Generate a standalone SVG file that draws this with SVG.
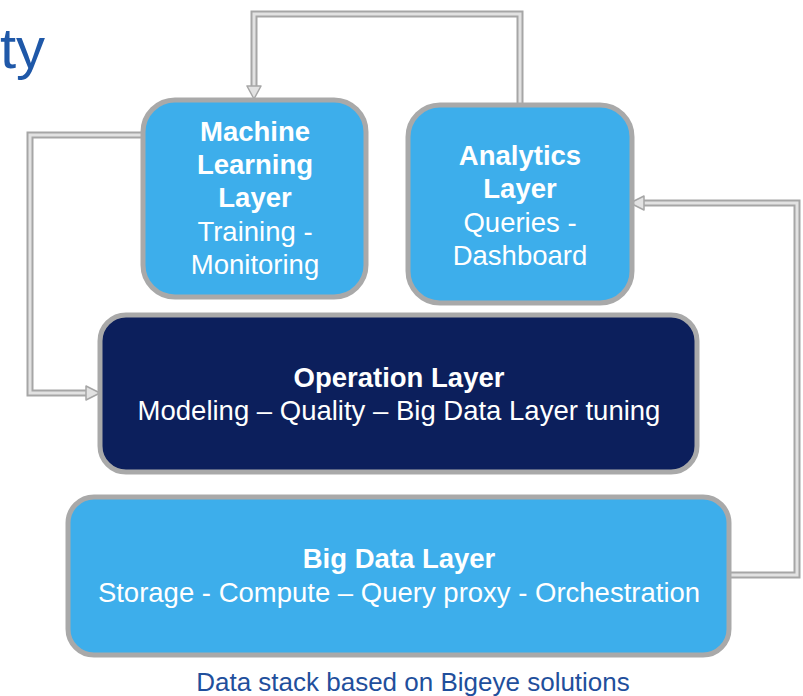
<svg xmlns="http://www.w3.org/2000/svg" width="803" height="696" viewBox="0 0 803 696">
<defs>
<style>
.box{stroke:#a9a9a9;stroke-width:5}
.light{fill:#3daeeb}
.dark{fill:#0c1f5c}
.t{font-family:"Liberation Sans",Arial,sans-serif;fill:#fff;text-anchor:middle;font-size:27.5px}
.b{font-weight:bold}
.co{fill:none;stroke:#a6a6a6;stroke-width:7;stroke-linejoin:miter}
.ci{fill:none;stroke:#e2e2e2;stroke-width:3}
.ah{fill:#e2e2e2;stroke:#a6a6a6;stroke-width:1.5;stroke-linejoin:round}
</style>
</defs>
<rect width="803" height="696" fill="#fff"/>
<text x="0" y="68" font-family="Liberation Sans,Arial,sans-serif" font-size="58" fill="#1f58a8">ty</text>
<g id="connectors">
<path class="co" d="M520,105 V14 H254 V88"/>
<path class="ci" d="M520,105 V14 H254 V88"/>
<polygon class="ah" points="247,86 261,86 254,99"/>
<path class="co" d="M143,135 H30 V393 H88"/>
<path class="ci" d="M143,135 H30 V393 H88"/>
<polygon class="ah" points="86,386 86,400 100,393"/>
<path class="co" d="M728,575 H797 V203 H642"/>
<path class="ci" d="M728,575 H797 V203 H642"/>
<polygon class="ah" points="644,196 644,210 630,203"/>
</g>
<g id="ml">
<rect class="box light" x="143" y="100" width="223" height="197" rx="32"/>
<text class="t b" x="255" y="141">Machine</text>
<text class="t b" x="255" y="174">Learning</text>
<text class="t b" x="255" y="207">Layer</text>
<text class="t" x="255" y="241">Training -</text>
<text class="t" x="255" y="274">Monitoring</text>
</g>
<g id="analytics">
<rect class="box light" x="408" y="105" width="224" height="198" rx="32"/>
<text class="t b" x="520" y="165">Analytics</text>
<text class="t b" x="520" y="198">Layer</text>
<text class="t" x="520" y="232">Queries -</text>
<text class="t" x="520" y="265">Dashboard</text>
</g>
<g id="operation">
<rect class="box dark" x="100" y="315" width="597" height="157" rx="26"/>
<text class="t b" x="399" y="387">Operation Layer</text>
<text class="t" x="399" y="420">Modeling – Quality – Big Data Layer tuning</text>
</g>
<g id="bigdata">
<rect class="box light" x="68" y="497" width="661" height="158" rx="26"/>
<text class="t b" x="399" y="568">Big Data Layer</text>
<text class="t" x="399" y="602">Storage - Compute – Query proxy - Orchestration</text>
</g>
<text x="413" y="691" font-family="Liberation Sans,Arial,sans-serif" font-size="26" fill="#1f4f9c" text-anchor="middle">Data stack based on Bigeye solutions</text>
</svg>
